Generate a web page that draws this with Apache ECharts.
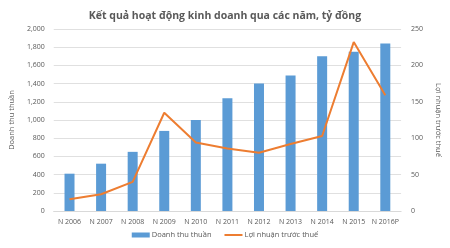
<!DOCTYPE html>
<html><head><meta charset="utf-8">
<script src="https://cdn.jsdelivr.net/npm/echarts@6/dist/echarts.min.js"></script>
<style>html,body{margin:0;padding:0;background:#fff}#c{width:450px;height:248px}</style>
</head><body><div id="c"></div>
<script>
var categories = ['N 2006','N 2007','N 2008','N 2009','N 2010','N 2011','N 2012','N 2013','N 2014','N 2015','N 2016P'];
var revenue = [410, 520, 650, 880, 1000, 1240, 1400, 1490, 1700, 1750, 1840];
var profit = [16, 23, 40, 135, 94, 86, 80, 92, 103, 232, 159];
var leftTicks = {min: 0, max: 2000, interval: 200};
var rightTicks = {min: 0, max: 250, interval: 50};

var chart = echarts.init(document.getElementById('c'), null, {renderer: 'canvas'});
var fam = 'Open Sans, Liberation Sans, sans-serif';
chart.setOption({
  animation: false,
  textStyle: {fontFamily: fam},
  title: {text: 'Kết quả hoạt động kinh doanh qua các năm, tỷ đồng', left: 'center', top: 6,
    textStyle: {fontSize: 10.5, fontWeight: 'bold', color: '#595959', fontFamily: fam}},
  grid: {left: 45, right: 35, top: 29, bottom: 37},
  legend: {bottom: 4, left: 'center', itemGap: 12, itemWidth: 18, itemHeight: 5,
    textStyle: {fontSize: 7.5, color: '#595959', padding: [0,0,0,-3]},
    data: [{name: 'Doanh thu thuần', icon: 'rect'},
           {name: 'Lợi nhuận trước thuế', itemStyle: {opacity: 0}}]},
  xAxis: {type: 'category', data: categories,
    axisLine: {lineStyle: {color: '#d9d9d9'}}, axisTick: {show: false},
    axisLabel: {fontSize: 7, color: '#595959', margin: 7, interval: 0}},
  yAxis: [
    {type: 'value', min: leftTicks.min, max: leftTicks.max, interval: leftTicks.interval,
     name: 'Doanh thu thuần', nameLocation: 'middle', nameGap: 30, nameRotate: 90,
     nameTextStyle: {fontSize: 7.5, color: '#595959'},
     axisLine: {show: false}, axisTick: {show: false},
     axisLabel: {fontSize: 7, color: '#595959', margin: 9,
       formatter: function(v){return v.toLocaleString('en-US');}},
     splitLine: {lineStyle: {color: '#e0e0e0'}}},
    {type: 'value', min: rightTicks.min, max: rightTicks.max, interval: rightTicks.interval,
     name: 'Lợi nhuận trước thuế', nameLocation: 'middle', nameGap: 26, nameRotate: -90,
     nameTextStyle: {fontSize: 7.5, color: '#595959'},
     axisLine: {show: false}, axisTick: {show: false},
     axisLabel: {fontSize: 7, color: '#595959', margin: 10},
     splitLine: {show: false}}
  ],
  series: [
    {name: 'Doanh thu thuần', type: 'bar', data: revenue, barWidth: 10, itemStyle: {color: '#5B9BD5'}},
    {name: 'Lợi nhuận trước thuế', type: 'line', yAxisIndex: 1, data: profit, symbol: 'none',
     lineStyle: {color: '#ED7D31', width: 2}, itemStyle: {color: '#ED7D31'}}
  ]
});
</script></body></html>
